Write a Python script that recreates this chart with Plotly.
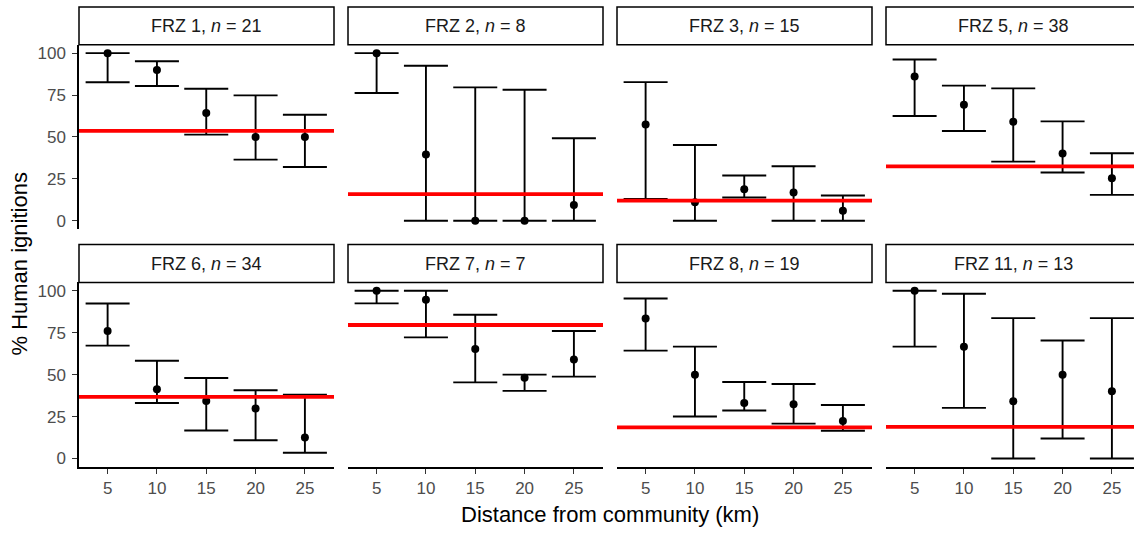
import plotly.graph_objects as go

# ---------------- data ----------------
distances = [5, 10, 15, 20, 25]
zones = ["FRZ 1", "FRZ 2", "FRZ 3", "FRZ 5", "FRZ 6", "FRZ 7", "FRZ 8", "FRZ 11"]
n_fires = [21, 8, 15, 38, 34, 7, 19, 13]

pct_frz1 = [100, 90, 64.3, 50, 50]
lo_frz1 = [82.6, 80.4, 51.4, 36.5, 32.1]
hi_frz1 = [100, 95.2, 78.8, 74.8, 63.3]

pct_frz2 = [100, 39.5, 0, 0, 9.5]
lo_frz2 = [76.2, 0, 0, 0, 0]
hi_frz2 = [100, 92.5, 79.6, 78.2, 49.2]

pct_frz3 = [57.5, 11.1, 18.9, 16.9, 6.0]
lo_frz3 = [13.1, 0, 13.9, 0, 0]
hi_frz3 = [82.7, 45.2, 27.0, 32.5, 15.1]

pct_frz5 = [86.1, 69.2, 59.1, 40.1, 25.4]
lo_frz5 = [62.5, 53.6, 35.3, 28.8, 15.5]
hi_frz5 = [96.2, 80.6, 79.0, 59.3, 40.3]

pct_frz6 = [76.0, 41.3, 34.3, 29.8, 12.5]
lo_frz6 = [67.3, 33.1, 16.7, 10.9, 3.4]
hi_frz6 = [92.4, 58.3, 48.0, 40.7, 38.1]

pct_frz7 = [100, 94.6, 65.3, 48.2, 59.1]
lo_frz7 = [92.5, 72.2, 45.4, 40.3, 48.8]
hi_frz7 = [100, 100, 85.7, 50.0, 76.0]

pct_frz8 = [83.5, 50.0, 33.1, 32.3, 22.4]
lo_frz8 = [64.3, 25.0, 28.6, 20.8, 16.5]
hi_frz8 = [95.4, 66.7, 45.6, 44.4, 31.9]

pct_frz11 = [100, 66.7, 34.1, 50.0, 40.1]
lo_frz11 = [66.7, 30.2, 0, 11.9, 0]
hi_frz11 = [100, 98.2, 83.7, 70.4, 83.7]

overall_pct = [53.6, 15.9, 12.1, 32.5, 36.7, 79.6, 18.5, 18.9]

y_ticks = [0, 25, 50, 75, 100]

pcts = [pct_frz1, pct_frz2, pct_frz3, pct_frz5, pct_frz6, pct_frz7, pct_frz8, pct_frz11]
los = [lo_frz1, lo_frz2, lo_frz3, lo_frz5, lo_frz6, lo_frz7, lo_frz8, lo_frz11]
his = [hi_frz1, hi_frz2, hi_frz3, hi_frz5, hi_frz6, hi_frz7, hi_frz8, hi_frz11]

# ---------------- layout geometry (px) ----------------
W, H = 1134, 533
col_left = [79, 348, 617, 886]
panel_w = 255
row_top = [44, 283]
panel_h = 185.5
strip_h = 38
x_lo, x_hi = 2.1, 27.95
ppu = panel_w / (x_hi - x_lo)

FONT = "Liberation Sans, Arial, sans-serif"


def fx(px):
    return px / W


def fy(py):
    return 1 - py / H


fig = go.Figure()
shapes = []
annotations = []

for i in range(8):
    r, c = divmod(i, 4)
    k = i + 1
    xa = "xaxis" if k == 1 else f"xaxis{k}"
    ya = "yaxis" if k == 1 else f"yaxis{k}"
    xr = "x" if k == 1 else f"x{k}"
    yr = "y" if k == 1 else f"y{k}"

    left = col_left[c]
    right = left + panel_w
    xmax = x_hi
    if right > W:
        xmax = x_lo + (W - left) / ppu
        right = W
    top = row_top[r]
    bottom = top + panel_h

    err_plus = [h - p for h, p in zip(his[i], pcts[i])]
    err_minus = [p - l for p, l in zip(pcts[i], los[i])]

    fig.add_trace(go.Scatter(
        x=distances, y=pcts[i], mode="markers", xaxis=xr, yaxis=yr,
        marker=dict(color="black", size=8),
        error_y=dict(type="data", symmetric=False, array=err_plus,
                     arrayminus=err_minus, color="black", thickness=1.9, width=22),
        showlegend=False, hoverinfo="x+y",
    ))

    bottom_row = (r == 1)
    left_col = (c == 0)
    fig.layout[xa] = dict(
        domain=[fx(left), fx(right)], range=[x_lo, xmax], anchor=yr,
        showgrid=False, zeroline=False,
        showline=bottom_row, linecolor="black", linewidth=1.5,
        ticks="outside" if bottom_row else "", ticklen=5, tickwidth=1.3, tickcolor="#333333",
        tickvals=distances if bottom_row else [],
        showticklabels=bottom_row,
        tickfont=dict(family=FONT, size=17, color="#4D4D4D"),
    )
    fig.layout[ya] = dict(
        domain=[fy(bottom), fy(top)], range=[-5, 105], anchor=xr,
        showgrid=False, zeroline=False,
        showline=left_col, linecolor="black", linewidth=1.5,
        ticks="outside" if left_col else "", ticklen=5, tickwidth=1.3, tickcolor="#333333",
        tickvals=y_ticks if left_col else [],
        showticklabels=left_col,
        tickfont=dict(family=FONT, size=17, color="#4D4D4D"),
        ticklabelstandoff=3,
    )

    # overall reference line
    shapes.append(dict(type="line", xref=f"{xr} domain", yref=yr, x0=0, x1=1,
                       y0=overall_pct[i], y1=overall_pct[i],
                       line=dict(color="#FF0000", width=3.8), layer="above"))

    # strip
    s_left = col_left[c]
    s_right = s_left + panel_w
    shapes.append(dict(type="rect", xref="paper", yref="paper",
                       x0=fx(s_left), x1=fx(s_right), y0=fy(top), y1=fy(top - strip_h),
                       fillcolor="white", line=dict(color="black", width=1.5), layer="above"))
    annotations.append(dict(xref="paper", yref="paper",
                            x=fx((s_left + s_right) / 2), y=fy(top - strip_h / 2),
                            text=f"{zones[i]}, <i>n</i> = {n_fires[i]}", showarrow=False,
                            xanchor="center", yanchor="middle",
                            font=dict(family=FONT, size=18, color="#1A1A1A")))

annotations.append(dict(xref="paper", yref="paper", x=fx(610), y=fy(516),
                        text="Distance from community (km)", showarrow=False,
                        xanchor="center", yanchor="middle",
                        font=dict(family=FONT, size=22, color="black")))
annotations.append(dict(xref="paper", yref="paper", x=fx(20), y=fy(265),
                        text="% Human ignitions", showarrow=False, textangle=-90,
                        xanchor="center", yanchor="middle",
                        font=dict(family=FONT, size=22, color="black")))

fig.update_layout(
    width=W, height=H, margin=dict(l=0, r=0, t=0, b=0),
    paper_bgcolor="white", plot_bgcolor="white",
    shapes=shapes, annotations=annotations,
    font=dict(family=FONT),
)

fig.write_html(
    "out.html",
    config={"displayModeBar": False},
    post_script="document.body.style.margin='0';document.body.style.overflow='hidden';",
)
